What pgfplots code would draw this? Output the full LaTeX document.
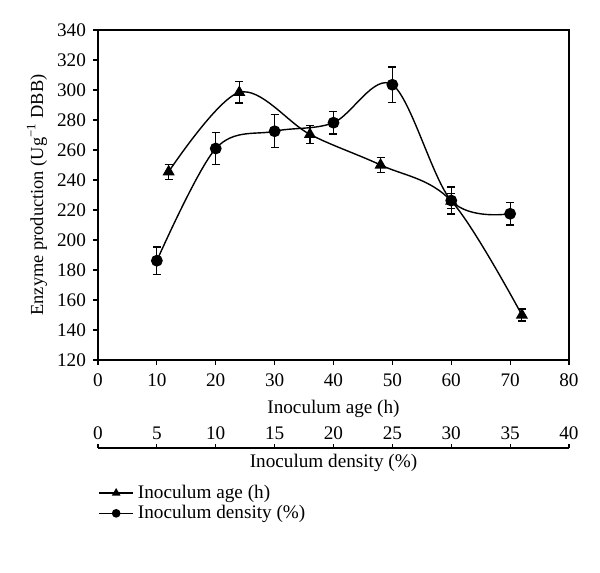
\documentclass[border=0pt]{standalone}
\usepackage{pgfplots}
\pgfplotsset{compat=1.18}
\usepackage{pgfplotstable}
\usepackage{fontspec}
\setmainfont{Liberation Serif}
\pgfplotstableread{
x y e
12 245.5 5
24 298.4 7
36 270.4 6
48 250 5
60 226 5
72 150 4
}\agedata
\pgfplotstableread{
d y e
5 186.2 9.2
10 261 10.6
15 272.5 11
20 278.2 7.6
25 303.5 11.8
30 226.3 9
35 217.5 7.5
}\densdata
\begin{document}
\begin{tikzpicture}[font=\fontsize{9.6}{11.5}\selectfont]
\useasboundingbox (-49pt,-106.5pt) rectangle (251pt,180pt);
\begin{axis}[
  at={(0,0)}, anchor=south west, scale only axis,
  width=235.5pt, height=165pt,
  xmin=0, xmax=80, ymin=120, ymax=340,
  xtick={0,10,...,80}, ytick={120,140,...,340},
  xtick pos=bottom, ytick pos=left,
  tick align=outside, major tick length=2.5pt,
  tick style={black, line width=0.6pt},
  axis line style={line width=0.7pt},
  /pgf/number format/assume math mode=true,
  xticklabel style={yshift=-1pt},
  xlabel={Inoculum age (h)},
  xlabel style={at={(axis description cs:0.5,-0.1485)}, anchor=center},
  ylabel={Enzyme production (Ug\textsuperscript{−1} DBB)},
  ylabel style={at={(axis description cs:-0.1295,0.5)}, anchor=center,
    font=\fontsize{9.2}{11}\selectfont},
  legend style={at={(axis description cs:0,-0.365)}, anchor=north west,
    draw=none, fill=none, inner sep=0pt, row sep=-2pt,
    font=\fontsize{9.6}{11.5}\selectfont},
  legend cell align=left,
  legend image post style={mark size=1.8pt},
]
\addplot[black, line width=0.7pt, smooth, tension=0.55, mark=triangle*, mark size=2.8pt,
  error bars/.cd, y dir=both, y explicit,
  error bar style={line width=0.6pt, black},
  error mark options={rotate=90, mark size=2pt, line width=0.6pt, black}]
  table[x=x, y=y, y error=e]{\agedata};
\addlegendentry{Inoculum age (h)}
\addplot[black, line width=0.7pt, smooth, tension=0.55, mark=*, mark size=2.6pt,
  error bars/.cd, y dir=both, y explicit,
  error bar style={line width=0.6pt, black},
  error mark options={rotate=90, mark size=2pt, line width=0.6pt, black}]
  table[x expr=2*\thisrow{d}, y=y, y error=e]{\densdata};
\addlegendentry{Inoculum density (\%)}
\end{axis}
\begin{axis}[
  at={(0,-44pt)}, anchor=south west, scale only axis,
  width=235.5pt, height=10pt,
  xmin=0, xmax=40, ymin=0, ymax=1,
  axis x line*=bottom, axis y line=none,
  xtick={0,5,...,40}, ytick=\empty,
  tick align=inside, major tick length=2pt,
  tick style={black, line width=0.6pt},
  axis line style={line width=0.7pt},
  /pgf/number format/assume math mode=true,
  xticklabel style={anchor=center, yshift=7.5pt},
  xlabel={Inoculum density (\%)},
  xlabel style={at={(axis description cs:0.5,0)}, anchor=center, yshift=-7.5pt},
]
\end{axis}
\end{tikzpicture}
\end{document}
